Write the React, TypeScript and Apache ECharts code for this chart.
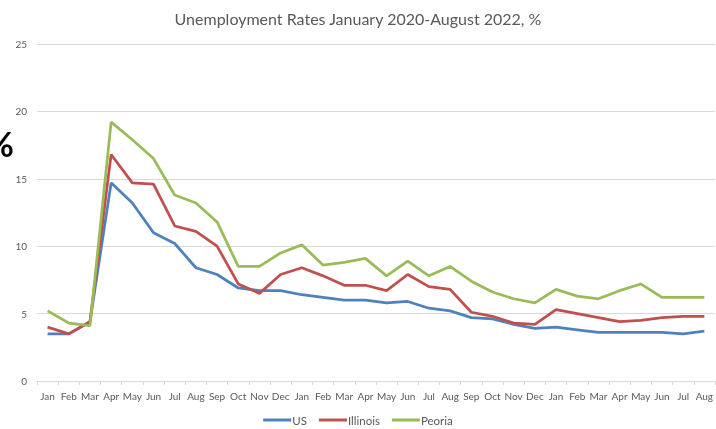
import React, { useEffect, useRef } from "react";
import * as echarts from "echarts";

const months = ["Jan","Feb","Mar","Apr","May","Jun","Jul","Aug","Sep","Oct","Nov","Dec",
  "Jan","Feb","Mar","Apr","May","Jun","Jul","Aug","Sep","Oct","Nov","Dec",
  "Jan","Feb","Mar","Apr","May","Jun","Jul","Aug"];

const us = [3.5,3.5,4.4,14.7,13.2,11.0,10.2,8.4,7.9,6.9,6.7,6.7,
  6.4,6.2,6.0,6.0,5.8,5.9,5.4,5.2,4.7,4.6,4.2,3.9,
  4.0,3.8,3.6,3.6,3.6,3.6,3.5,3.7];

const illinois = [4.0,3.5,4.4,16.8,14.7,14.6,11.5,11.1,10.0,7.2,6.5,7.9,
  8.4,7.8,7.1,7.1,6.7,7.9,7.0,6.8,5.1,4.8,4.3,4.2,
  5.3,5.0,4.7,4.4,4.5,4.7,4.8,4.8];

const peoria = [5.2,4.3,4.1,19.2,17.9,16.5,13.8,13.2,11.8,8.5,8.5,9.5,
  10.1,8.6,8.8,9.1,7.8,8.9,7.8,8.5,7.4,6.6,6.1,5.8,
  6.8,6.3,6.1,6.7,7.2,6.2,6.2,6.2];

const FONT = "Lato";
const GREY = "#595959";

export default function App() {
  const ref = useRef<HTMLDivElement>(null);
  useEffect(() => {
    if (!ref.current) return;
    const chart = echarts.init(ref.current, null, { renderer: "svg" });
    const line = (name: string, data: number[], color: string) => ({
      name, type: "line", data, symbol: "none", smooth: false,
      lineStyle: { color, width: 2.75 }, itemStyle: { color },
    });
    chart.setOption({
      animation: false,
      textStyle: { fontFamily: FONT },
      title: {
        text: "Unemployment Rates January 2020-August 2022, %",
        left: "center", top: 5,
        textStyle: { fontFamily: FONT, fontSize: 16, fontWeight: "normal", color: GREY },
      },
      graphic: [{
        type: "text", left: -14, top: 126,
        style: { text: "%", fontSize: 34, fontWeight: "bold", fontFamily: FONT, fill: "#000" },
      }],
      legend: {
        top: 414, left: "center", padding: 0, itemWidth: 28, itemHeight: 3, itemGap: 12,
        icon: "rect",
        textStyle: { fontFamily: FONT, fontSize: 11.5, color: GREY, padding: [0, 0, 0, -4] },
        data: ["US", "Illinois", "Peoria"],
      },
      grid: { left: 37, top: 44, bottom: 48, width: 682, containLabel: false },
      xAxis: {
        type: "category", data: months, boundaryGap: true,
        axisLine: { lineStyle: { color: "#d9d9d9" } },
        axisTick: { show: true, length: 4, lineStyle: { color: "#d9d9d9" }, interval: 0 },
        axisLabel: { interval: 0, color: GREY, fontSize: 10, fontFamily: FONT, margin: 10 },
      },
      yAxis: {
        type: "value", min: 0, max: 25, interval: 5,
        axisLine: { show: false }, axisTick: { show: false },
        axisLabel: { color: GREY, fontSize: 10, fontFamily: FONT, margin: 10 },
        splitLine: { lineStyle: { color: "#d9d9d9" } },
      },
      series: [
        line("US", us, "#4F81BD"),
        line("Illinois", illinois, "#C0504D"),
        line("Peoria", peoria, "#9BBB59"),
      ],
    });
    return () => chart.dispose();
  }, []);
  return <div ref={ref} style={{ position: "fixed", left: 0, top: 0, width: 716, height: 429 }} />;
}
